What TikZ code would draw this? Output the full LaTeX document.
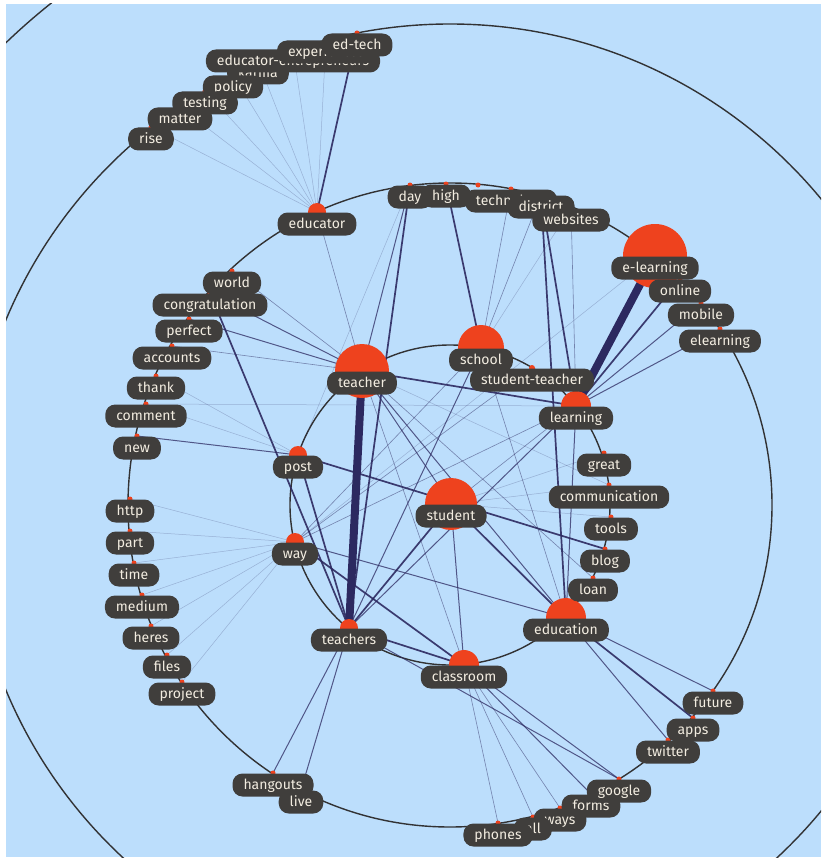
\documentclass[tikz,border=0pt]{standalone}
\usepackage{fontspec}
\setmainfont{Fira Sans}
\usetikzlibrary{calc}
\definecolor{bgc}{RGB}{188,222,252}
\definecolor{ringc}{RGB}{50,50,52}
\definecolor{dotc}{RGB}{238,66,30}
\definecolor{lblc}{RGB}{64,62,60}
\definecolor{txtc}{RGB}{242,236,224}
\definecolor{linkc}{RGB}{44,41,96}

\begin{document}
\begin{tikzpicture}[x=1pt,y=-1pt,
  ring/.style={draw=ringc,line width=1.4pt},
  dot/.style={fill=dotc},
  lbl/.style={fill=lblc,text=txtc,rounded corners=10pt,inner xsep=11pt,inner ysep=5pt,
    text height=11pt,text depth=2pt,font=\fontsize{14}{15}\selectfont},
  wfaint/.style={draw=linkc,line width=0.5pt,draw opacity=0.25},
  wlite/.style={draw=linkc,line width=0.6pt,draw opacity=0.5},
  wmid/.style={draw=linkc,line width=1pt,draw opacity=0.75},
  wheavy/.style={draw=linkc,line width=1.7pt,draw opacity=0.9},
  wfat/.style={draw=linkc,line width=8pt}]
\fill[white] (0,0) rectangle (821,861);
\fill[bgc] (6,4) rectangle (821,857);
\begin{scope}
\clip (6,4) rectangle (821,857);
\coordinate (ctr) at (450,505);
\draw[ring] (ctr) circle (160); \draw[ring] (ctr) circle (322); \draw[ring] (ctr) circle (481); \draw[ring] (ctr) circle (641);

% inner ring and centre
\coordinate (teacher) at (362,371); \coordinate (school) at (481,348); \coordinate (stuteach) at (532,368); \coordinate (learning) at (576,406);
\coordinate (great) at (604,453); \coordinate (communication) at (609,485); \coordinate (tools) at (611,517); \coordinate (blog) at (605,549); \coordinate (loan) at (593,578);
\coordinate (education) at (566,618); \coordinate (classroom) at (464,665); \coordinate (teachers) at (349,628); \coordinate (way) at (295,542); \coordinate (post) at (298,455);
\coordinate (student) at (451,504);
% middle ring
\coordinate (educator) at (317,212); \coordinate (day) at (410,185); \coordinate (high) at (446,184); \coordinate (hid) at (478,185); \coordinate (technology) at (511,189);
\coordinate (district) at (541,195); \coordinate (websites) at (571,208); \coordinate (elearn) at (655,256); \coordinate (online) at (680,279); \coordinate (mobile) at (701,303);
\coordinate (elearning) at (720,329); \coordinate (future) at (713,691); \coordinate (apps) at (693,718); \coordinate (twitter) at (668,740); \coordinate (google) at (619,779);
\coordinate (forms) at (591,794); \coordinate (ways) at (560,808); \coordinate (all) at (533,817); \coordinate (phones) at (498,823);
\coordinate (live) at (301,790); \coordinate (hangouts) at (273,773); \coordinate (project) at (182,682); \coordinate (files) at (167,655); \coordinate (heres) at (151,626);
\coordinate (medium) at (142,595); \coordinate (time) at (134,563); \coordinate (part) at (130,531); \coordinate (http) at (130,499); \coordinate (new) at (137,436);
\coordinate (comment) at (146,404); \coordinate (thank) at (156,376); \coordinate (accounts) at (172,346); \coordinate (perfect) at (189,319); \coordinate (congrat) at (210,293);
\coordinate (world) at (232,271);
% outer ring
\coordinate (rise) at (151,127); \coordinate (matter) at (180,107); \coordinate (testing) at (205,91); \coordinate (policy) at (233,75); \coordinate (karma) at (258,61);
\coordinate (eduent) at (293,49); \coordinate (exper) at (326,40); \coordinate (edtech) at (357,33);

% links
\draw[wfaint] (educator)--(rise); \draw[wfaint] (educator)--(matter); \draw[wfaint] (educator)--(testing); \draw[wfaint] (educator)--(policy);
\draw[wfaint] (educator)--(karma); \draw[wfaint] (educator)--(eduent); \draw[wfaint] (educator)--(exper);
\draw[wfaint] (way)--(http); \draw[wfaint] (way)--(part); \draw[wfaint] (way)--(time); \draw[wfaint] (way)--(medium);
\draw[wfaint] (way)--(heres); \draw[wfaint] (way)--(files); \draw[wfaint] (way)--(project); \draw[wfaint] (way)--(elearn);
\draw[wfaint] (post)--(thank); \draw[wfaint] (post)--(comment); \draw[wfaint] (day)--(post);
\draw[wfaint] (student)--(great); \draw[wfaint] (student)--(communication); \draw[wfaint] (student)--(tools);
\draw[wfaint] (school)--(websites); \draw[wfaint] (teacher)--(communication); \draw[wfaint] (learning)--(comment);
\draw[wlite] (educator)--(teacher); \draw[wlite] (teacher)--(world); \draw[wlite] (teacher)--(accounts);
\draw[wlite] (teacher)--(classroom); \draw[wlite] (teacher)--(loan);
\draw[wlite] (way)--(school); \draw[wlite] (way)--(learning); \draw[wlite] (way)--(stuteach);
\draw[wlite] (classroom)--(phones); \draw[wlite] (classroom)--(all); \draw[wlite] (classroom)--(ways);
\draw[wlite] (education)--(school); \draw[wlite] (learning)--(websites); \draw[wlite] (school)--(technology); \draw[wlite] (school)--(district);
\draw[wlite] (student)--(learning);
\draw[wmid] (teacher)--(congrat); \draw[wmid] (teacher)--(perfect); \draw[wmid] (new)--(post);
\draw[wmid] (teacher)--(student); \draw[wmid] (teacher)--(education); \draw[wmid] (teacher)--(day);
\draw[wmid] (way)--(education); \draw[wmid] (teachers)--(hangouts); \draw[wmid] (teachers)--(live);
\draw[wmid] (teachers)--(learning); \draw[wmid] (teachers)--(school); \draw[wmid] (teachers)--(google);
\draw[wmid] (classroom)--(student); \draw[wmid] (classroom)--(forms); \draw[wmid] (classroom)--(google);
\draw[wmid] (education)--(future); \draw[wmid] (education)--(twitter); \draw[wmid] (education)--(learning);
\draw[wmid] (learning)--(mobile); \draw[wmid] (learning)--(elearning);
\draw[wheavy] (educator)--(edtech); \draw[wheavy] (congrat)--(teachers); \draw[wheavy] (post)--(teachers); \draw[wheavy] (post)--(blog);
\draw[wheavy] (way)--(classroom); \draw[wheavy] (teachers)--(classroom); \draw[wheavy] (teachers)--(student); \draw[wheavy] (teachers)--(day);
\draw[wheavy] (education)--(apps); \draw[wheavy] (education)--(student); \draw[wheavy] (education)--(district);
\draw[wheavy] (learning)--(online); \draw[wheavy] (learning)--(district); \draw[wheavy] (learning)--(teacher); \draw[wheavy] (school)--(high);
\draw[wfat] (teacher)--(teachers); \draw[wfat] (elearn)--(learning);

% dots
\fill[dot] (teacher) circle (27); \fill[dot] (school) circle (23); \fill[dot] (elearn) circle (32); \fill[dot] (student) circle (26);
\fill[dot] (education) circle (20); \fill[dot] (learning) circle (15); \fill[dot] (classroom) circle (15);
\fill[dot] (educator) circle (9); \fill[dot] (post) circle (9); \fill[dot] (way) circle (9); \fill[dot] (teachers) circle (9);
\fill[dot] (stuteach) circle (3); \fill[dot] (great) circle (2.5); \fill[dot] (communication) circle (2.5); \fill[dot] (tools) circle (2.5);
\fill[dot] (blog) circle (2.5); \fill[dot] (loan) circle (2.5);
\fill[dot] (day) circle (2.5); \fill[dot] (high) circle (2.5); \fill[dot] (hid) circle (2.5); \fill[dot] (technology) circle (2.5);
\fill[dot] (district) circle (2.5); \fill[dot] (websites) circle (2.5); \fill[dot] (online) circle (2.5); \fill[dot] (mobile) circle (2.5);
\fill[dot] (elearning) circle (2.5); \fill[dot] (future) circle (2.5); \fill[dot] (apps) circle (2.5); \fill[dot] (twitter) circle (2.5);
\fill[dot] (google) circle (2.5); \fill[dot] (forms) circle (2.5); \fill[dot] (ways) circle (2.5); \fill[dot] (all) circle (2.5);
\fill[dot] (phones) circle (2.5); \fill[dot] (live) circle (2.5); \fill[dot] (hangouts) circle (2.5); \fill[dot] (project) circle (2.5);
\fill[dot] (files) circle (2.5); \fill[dot] (heres) circle (2.5); \fill[dot] (medium) circle (2.5); \fill[dot] (time) circle (2.5);
\fill[dot] (part) circle (2.5); \fill[dot] (http) circle (2.5); \fill[dot] (new) circle (2.5); \fill[dot] (comment) circle (2.5);
\fill[dot] (thank) circle (2.5); \fill[dot] (accounts) circle (2.5); \fill[dot] (perfect) circle (2.5); \fill[dot] (congrat) circle (2.5);
\fill[dot] (world) circle (2.5); \fill[dot] (rise) circle (2.5); \fill[dot] (matter) circle (2.5); \fill[dot] (testing) circle (2.5);
\fill[dot] (policy) circle (2.5); \fill[dot] (karma) circle (2.5); \fill[dot] (eduent) circle (2.5); \fill[dot] (exper) circle (2.5);
\fill[dot] (edtech) circle (2.5);

% labels
\node[lbl] (lteacher) at ([yshift=-12pt]teacher) {teacher};
\node[lbl] (lschool) at ([yshift=-12pt]school) {school};
\node[lbl] (lstuteach) at ([yshift=-12pt]stuteach) {student-teacher};
\node[lbl] (llearning) at ([yshift=-12pt]learning) {learning};
\node[lbl] (lgreat) at ([yshift=-12pt]great) {great};
\node[lbl] (lcommunication) at ([yshift=-12pt]communication) {communication};
\node[lbl] (ltools) at ([yshift=-12pt]tools) {tools};
\node[lbl] (lblog) at ([yshift=-12pt]blog) {blog};
\node[lbl] (lloan) at ([yshift=-12pt]loan) {loan};
\node[lbl] (leducation) at ([yshift=-12pt]education) {education};
\node[lbl] (lteachers) at ([yshift=-12pt]teachers) {teachers};
\node[lbl] (lclassroom) at ([yshift=-12pt]classroom) {classroom};
\node[lbl] (lway) at ([yshift=-12pt]way) {way};
\node[lbl] (lpost) at ([yshift=-12pt]post) {post};
\node[lbl] (lstudent) at ([yshift=-12pt]student) {student};
\node[lbl] (leducator) at ([yshift=-12pt]educator) {educator};
\node[lbl] (lday) at ([yshift=-12pt]day) {day};
\node[lbl] (lhigh) at ([yshift=-12pt]high) {high};
\node[lbl] (ltechnology) at ([yshift=-12pt]technology) {technology};
\node[lbl] (ldistrict) at ([yshift=-12pt]district) {district};
\node[lbl] (lwebsites) at ([yshift=-12pt]websites) {websites};
\node[lbl] (lelearn) at ([yshift=-12pt]elearn) {e-learning};
\node[lbl] (lonline) at ([yshift=-12pt]online) {online};
\node[lbl] (lmobile) at ([yshift=-12pt]mobile) {mobile};
\node[lbl] (lelearning) at ([yshift=-12pt]elearning) {elearning};
\node[lbl] (lfuture) at ([yshift=-12pt]future) {future};
\node[lbl] (lapps) at ([yshift=-12pt]apps) {apps};
\node[lbl] (ltwitter) at ([yshift=-12pt]twitter) {twitter};
\node[lbl] (lforms) at ([yshift=-12pt]forms) {forms};
\node[lbl] (lgoogle) at ([yshift=-12pt]google) {google};
\node[lbl] (lways) at ([yshift=-12pt]ways) {ways};
\node[lbl] (lall) at ([yshift=-12pt]all) {all};
\node[lbl] (lphones) at ([yshift=-12pt]phones) {phones};
\node[lbl] (lhangouts) at ([yshift=-12pt]hangouts) {hangouts};
\node[lbl] (llive) at ([yshift=-12pt]live) {live};
\node[lbl] (lproject) at ([yshift=-12pt]project) {project};
\node[lbl] (lfiles) at ([yshift=-12pt]files) {files};
\node[lbl] (lheres) at ([yshift=-12pt]heres) {heres};
\node[lbl] (lmedium) at ([yshift=-12pt]medium) {medium};
\node[lbl] (ltime) at ([yshift=-12pt]time) {time};
\node[lbl] (lpart) at ([yshift=-12pt]part) {part};
\node[lbl] (lhttp) at ([yshift=-12pt]http) {http};
\node[lbl] (lnew) at ([yshift=-12pt]new) {new};
\node[lbl] (lcomment) at ([yshift=-12pt]comment) {comment};
\node[lbl] (lthank) at ([yshift=-12pt]thank) {thank};
\node[lbl] (laccounts) at ([yshift=-12pt]accounts) {accounts};
\node[lbl] (lperfect) at ([yshift=-12pt]perfect) {perfect};
\node[lbl] (lcongrat) at ([yshift=-12pt]congrat) {congratulation};
\node[lbl] (lworld) at ([yshift=-12pt]world) {world};
\node[lbl] (lkarma) at ([yshift=-12pt]karma) {karma};
\node[lbl] (leduent) at ([yshift=-12pt]eduent) {educator-entrepreneurs};
\node[lbl] (lexper) at ([yshift=-12pt]exper) {experiences};
\node[lbl] (ledtech) at ([yshift=-12pt]edtech) {ed-tech};
\node[lbl] (lpolicy) at ([yshift=-12pt]policy) {policy};
\node[lbl] (ltesting) at ([yshift=-12pt]testing) {testing};
\node[lbl] (lmatter) at ([yshift=-12pt]matter) {matter};
\node[lbl] (lrise) at ([yshift=-12pt]rise) {rise};
\end{scope}
\end{tikzpicture}
\end{document}
